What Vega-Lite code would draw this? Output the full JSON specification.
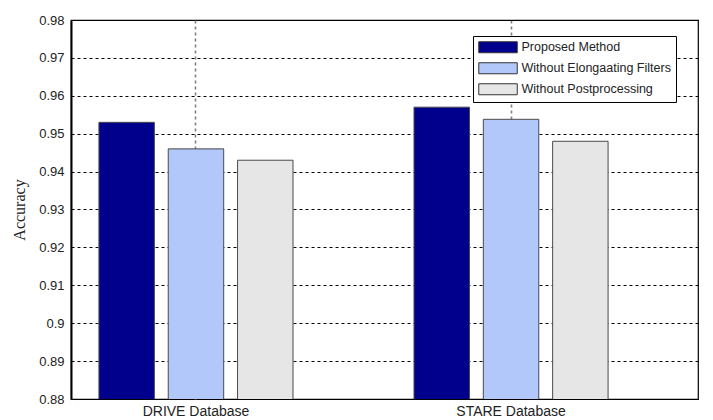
{
  "$schema": "https://vega.github.io/schema/vega-lite/v6.json",
  "width": 627,
  "height": 379,
  "autosize": "none",
  "padding": {"left": 71, "top": 20, "right": 15, "bottom": 21},
  "background": "white",
  "data": {
    "values": [
      {"db": "DRIVE Database", "method": "Proposed Method", "acc": 0.953},
      {"db": "DRIVE Database", "method": "Without Elongaating Filters", "acc": 0.946},
      {"db": "DRIVE Database", "method": "Without Postprocessing", "acc": 0.943},
      {"db": "STARE Database", "method": "Proposed Method", "acc": 0.957},
      {"db": "STARE Database", "method": "Without Elongaating Filters", "acc": 0.9538},
      {"db": "STARE Database", "method": "Without Postprocessing", "acc": 0.948}
    ]
  },
  "mark": {"type": "bar", "stroke": "#4a4a4a", "strokeWidth": 1, "clip": true},
  "encoding": {
    "x": {
      "field": "db", "type": "nominal", "sort": null,
      "scale": {"paddingInner": 0.384, "paddingOuter": 0.187, "align": 0.237},
      "axis": {
        "title": null, "labelAngle": 0, "labelFont": "Liberation Sans", "labelFontSize": 14,
        "labelColor": "#222", "ticks": false, "labelPadding": 5, "domain": false,
        "grid": true, "bandPosition": 0.5, "gridColor": "#808080", "gridDash": [3, 3],
        "gridWidth": 1.6, "gridOpacity": 1
      }
    },
    "xOffset": {
      "field": "method", "type": "nominal", "sort": null,
      "scale": {"paddingInner": 0.2, "paddingOuter": 0}
    },
    "y": {
      "field": "acc", "type": "quantitative",
      "scale": {"domain": [0.88, 0.98], "zero": false, "nice": false},
      "axis": {
        "title": "Accuracy", "titleFont": "Liberation Serif", "titleFontSize": 16,
        "titleFontWeight": "normal", "titleColor": "#222", "titlePadding": 11,
        "values": [0.88, 0.89, 0.9, 0.91, 0.92, 0.93, 0.94, 0.95, 0.96, 0.97, 0.98],
        "format": ".2~f", "labelFont": "Liberation Sans", "labelFontSize": 13,
        "labelColor": "#222", "ticks": false, "labelPadding": 7,
        "domainColor": "#000", "domainWidth": 2,
        "grid": true, "gridColor": "#000", "gridDash": [3, 3], "gridWidth": 1, "gridOpacity": 1
      }
    },
    "color": {
      "field": "method", "type": "nominal", "sort": null,
      "scale": {"range": ["#00008c", "#b3c8fa", "#e6e6e6"]},
      "legend": {
        "title": null, "orient": "none", "legendX": 402, "legendY": 16,
        "fillColor": "white", "strokeColor": "#000", "padding": 5,
        "labelFont": "Liberation Sans", "labelFontSize": 12.5, "labelColor": "#222",
        "symbolType": "M-1,-1H6V1H-1Z", "symbolSize": 121, "symbolStrokeColor": "#333",
        "symbolStrokeWidth": 1, "symbolOpacity": 1, "labelOffset": 31, "rowPadding": 5
      }
    }
  },
  "config": {
    "view": {"stroke": "#000", "strokeWidth": 1.2},
    "axisX": {"domainColor": "#000", "domainWidth": 2}
  }
}
